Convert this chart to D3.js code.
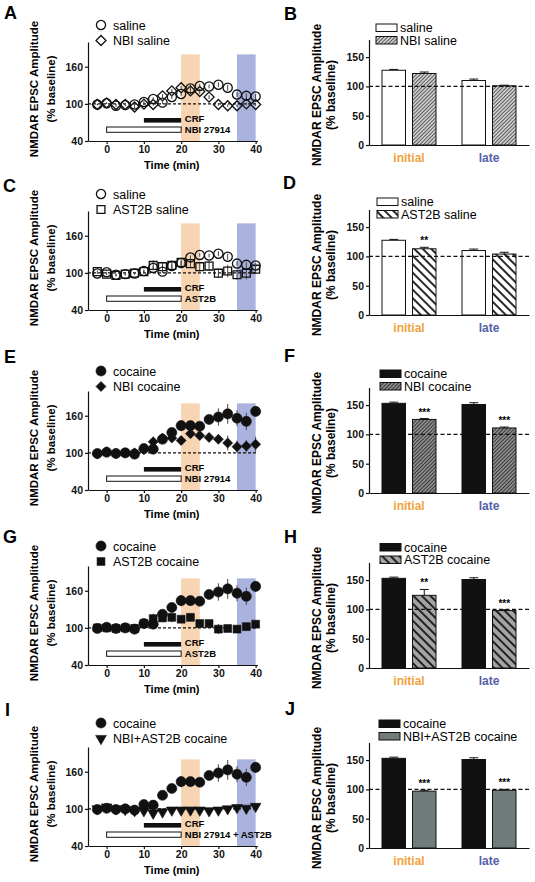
<!DOCTYPE html>
<html><head><meta charset="utf-8">
<script src="https://cdn.jsdelivr.net/npm/d3@7"></script>
<style>
body{margin:0;background:#fff}
svg{display:block}
text{font-family:"Liberation Sans",Arial,Helvetica,sans-serif}
</style>
</head><body>
<svg id="c" width="535" height="882"></svg>
<script>
// ---------- DATA ----------
const times = [-2.5,0,2.5,5,7.5,10,12.5,15,17.5,20,22.5,25,27.5,30,32.5,35,37.5,40];
const saline        = [99,101,97,98,99,103,108,102,111,116,125,129,128,131,126,115,113,112];
const salineErr     = [1,1,2,2,2,2,3,2,3,3,3,3,3,4,5,4,4,4];
const nbiSaline     = [99,101.5,99,99,95,99.5,99,113,121,126,121,120,111,99,97,97,100,99];
const nbiSalineErr  = [1,1,1,1,2,2,2,3,3,3,4,4,3,2,2,2,2,2];
const ast2bSaline   = [102,98,96,98,99.5,102,112,110,112,117,115,110,111,99.5,103,97,99.5,106];
const ast2bSalineErr= [2,2,2,2,2,3,8,6,8,6,7,8,8,8,10,8,10,5];
const cocaine       = [99,101,99,100,98,107,106,122,133,144,144,143,154,158,163,156,151,167];
const cocaineErr    = [1,2,3,3,3,6,6,5,5,9,7,5,6,14,16,13,14,8];
const nbiCocaine    = [98,102,99,100,100,105,118,124,124,120,131,128,125,122,116,110,111,114];
const nbiCocaineErr = [2,2,2,3,3,5,4,5,5,6,6,4,6,8,12,10,10,12];
const ast2bCocaine  = [100,100,99,100,99,107,115,116,117,114,117,107,107,98,99,98,102,106];
const ast2bCocaineErr=[1,1,1,1,2,4,8,6,8,6,6,5,6,8,3,2,3,4];
const comboCocaine  = [100,103,100,99,97,97,93,95,98,98,98,98,97,98,100,102,101,104];
const comboCocaineErr=[1,2,2,2,2,2,2,2,2,2,2,2,2,2,2,2,2,3];

const xTicks = [0,10,20,30,40];
const yTicksLine = [40,100,160];
const yTicksBar = [0,50,100,150];
const initialWindow = [20,25];
const lateWindow = [35,40];
const crfWindow = [10,20];
const drugWindow = [0,20];

const periods = ["initial","late"];
const barSaline = [127.5,110],        barSalineErr = [1.5,2.5];
const barNbiSaline = [122,101],       barNbiSalineErr = [2.5,1];
const barAst2bSaline = [113,104],     barAst2bSalineErr = [2.5,3];
const barCocaine = [153,151],         barCocaineErr = [2,3];
const barNbiCocaine = [125.5,111],    barNbiCocaineErr = [1.5,1.5];
const barAst2bCocaine = [124,98],     barAst2bCocaineErr = [10,1.5];
const barComboCocaine = [97,98.5],    barComboCocaineErr = [1.5,1.5];

// ---------- SETUP ----------
const svg = d3.select("#c");
const defs = svg.append("defs");
function stripe(id,bg,fg,size,w,angle){
  const p = defs.append("pattern").attr("id",id).attr("patternUnits","userSpaceOnUse")
    .attr("width",size).attr("height",size).attr("patternTransform",`rotate(${angle})`);
  p.append("rect").attr("width",size).attr("height",size).attr("fill",bg);
  p.append("line").attr("x1",size/2).attr("x2",size/2).attr("y1",0).attr("y2",size)
    .attr("stroke",fg).attr("stroke-width",w);
}
stripe("fineLight","#fff","#555",2.6,1.4,45);
stripe("fineDark","#a0a0a0","#333",2.6,1.2,45);
stripe("wideWhite","#fff","#111",6,1.8,-45);
stripe("wideGray","#a4a4a4","#222",6,2,-45);

const ORANGE_BAND="#f7d4b2", BLUE_BAND="#aab2de";
const ORANGE_TXT="#f0a23c", BLUE_TXT="#5560a8";

const sym = {
  circle: d3.symbol().type(d3.symbolCircle).size(66),
  fcircle: d3.symbol().type(d3.symbolCircle).size(80),
  diamond: d3.symbol().type(d3.symbolSquare).size(50),
  square: d3.symbol().type(d3.symbolSquare).size(62),
  triangle: d3.symbol().type(d3.symbolTriangle).size(50)
};
const rot = {circle:0,fcircle:0,diamond:45,square:0,triangle:180};

function drawMarker(g,x,y,shape,filled){
  g.append("path").attr("d",sym[shape]()).attr("transform",`translate(${x},${y}) rotate(${rot[shape]})`)
    .attr("fill",filled?"#111":"none").attr("stroke","#111").attr("stroke-width",filled?0.6:1.3);
}

function letter(x,y,t){
  svg.append("text").attr("x",x).attr("y",y).attr("font-size",18).attr("font-weight","bold").text(t);
}
function ylabel(x1,x2,cy,fs){
  svg.append("text").attr("transform",`translate(${x1},${cy}) rotate(-90)`).attr("text-anchor","middle")
    .attr("dy","0.35em").attr("font-size",fs).attr("font-weight","bold").text("NMDAR EPSC Amplitude");
  svg.append("text").attr("transform",`translate(${x2},${cy}) rotate(-90)`).attr("text-anchor","middle")
    .attr("dy","0.35em").attr("font-size",fs).attr("font-weight","bold").text("(% baseline)");
}

// ---------- LINE PANELS ----------
function linePanel(cfg){
  const y40 = cfg.y40;
  const x = d3.scaleLinear().domain([-5,40.5]).range([88,257.5]);
  const y = d3.scaleLinear().domain([40,200]).range([y40,y40-99]);
  const g = svg.append("g");
  [[initialWindow,ORANGE_BAND],[lateWindow,BLUE_BAND]].forEach(([w,c])=>{
    g.append("rect").attr("x",x(w[0])).attr("width",x(w[1])-x(w[0]))
      .attr("y",y(180)).attr("height",y(40)-y(180)).attr("fill",c);
  });
  g.append("line").attr("x1",x(-5)).attr("x2",x(40.5)).attr("y1",y(100)).attr("y2",y(100))
    .attr("stroke","#111").attr("stroke-width",1.1).attr("stroke-dasharray","3,2");
  // treatment bars
  g.append("rect").attr("x",x(crfWindow[0])).attr("width",x(crfWindow[1])-x(crfWindow[0]))
    .attr("y",y40-23).attr("height",4.6).attr("fill","#111");
  g.append("rect").attr("x",x(drugWindow[0])).attr("width",x(drugWindow[1])-x(drugWindow[0]))
    .attr("y",y40-14).attr("height",5.3).attr("fill","#fff").attr("stroke","#111").attr("stroke-width",1);
  g.append("text").attr("x",x(21)).attr("y",y40-18.8).attr("font-size",9.5).attr("font-weight","bold").text("CRF");
  g.append("text").attr("x",x(21)).attr("y",y40-7.8).attr("font-size",9.5).attr("font-weight","bold").text(cfg.drug);
  // axes
  const ya = g.append("g").attr("transform","translate(88,0)")
    .call(d3.axisLeft(y).tickValues(yTicksLine).tickSize(3).tickSizeOuter(0).tickPadding(2));
  const xa = g.append("g").attr("transform",`translate(0,${y40})`)
    .call(d3.axisBottom(x).tickValues(xTicks).tickSize(3).tickSizeOuter(0).tickPadding(2));
  [ya,xa].forEach(a=>{
    a.selectAll("path,line").attr("stroke","#111").attr("stroke-width",1.2);
    a.selectAll("text").attr("font-size",10.5).attr("font-weight","bold").attr("fill","#111")
      .attr("font-family","Liberation Sans,Arial,sans-serif");
  });
  g.append("text").attr("x",x(17.5)).attr("y",y40+28).attr("text-anchor","middle")
    .attr("font-size",11).attr("font-weight","bold").text("Time (min)");
  // series (reverse so first series on top)
  cfg.series.slice().reverse().forEach(s=>{
    times.forEach((t,i)=>{
      g.append("line").attr("x1",x(t)).attr("x2",x(t)).attr("y1",y(s.values[i]-s.err[i])).attr("y2",y(s.values[i]+s.err[i]))
        .attr("stroke","#444").attr("stroke-width",1);
    });
    times.forEach((t,i)=> drawMarker(g,x(t),y(s.values[i]),s.shape,s.filled));
  });
  // legend
  cfg.series.forEach((s,i)=>{
    const ly = cfg.legY + i*15.5;
    drawMarker(g,101,ly,s.shape,s.filled);
    g.append("text").attr("x",113).attr("y",ly).attr("dy","0.36em").attr("font-size",12.5).text(s.name);
  });
  ylabel(34,51,y40-52,11.5);
  letter(cfg.lx,cfg.ly,cfg.letter);
}

// ---------- BAR PANELS ----------
function barPanel(cfg){
  const y0 = cfg.y0;
  const y = d3.scaleLinear().domain([0,180]).range([y0,y0-105.5]);
  const x0 = d3.scaleBand().domain(periods).range([369,529]).paddingInner(0.325).paddingOuter(0.1625);
  const x1 = d3.scaleBand().domain(cfg.series.map(s=>s.name)).range([0,x0.bandwidth()]).paddingInner(0.23);
  const g = svg.append("g");
  cfg.series.forEach(s=>{
    periods.forEach((p,i)=>{
      const bx = x0(p)+x1(s.name), bw = x1.bandwidth();
      const top = y(s.values[i]), etop = y(s.values[i]+s.err[i]);
      g.append("line").attr("x1",bx+bw/2).attr("x2",bx+bw/2).attr("y1",top).attr("y2",etop).attr("stroke","#111").attr("stroke-width",1);
      g.append("line").attr("x1",bx+bw/2-4.5).attr("x2",bx+bw/2+4.5).attr("y1",etop).attr("y2",etop).attr("stroke","#111").attr("stroke-width",1);
      g.append("rect").attr("x",bx).attr("width",bw).attr("y",top).attr("height",y0-top)
        .attr("fill",s.fill).attr("stroke","#111").attr("stroke-width",1);
      if(s.sig && s.sig[i]){
        g.append("text").attr("x",bx+bw/2).attr("y",etop-3).attr("text-anchor","middle")
          .attr("font-size",10).attr("font-weight","bold").text(s.sig[i]);
      }
    });
  });
  g.append("line").attr("x1",369).attr("x2",529).attr("y1",y(100)).attr("y2",y(100))
    .attr("stroke","#111").attr("stroke-width",1.4).attr("stroke-dasharray","4,2.5");
  const ya = g.append("g").attr("transform","translate(369,0)")
    .call(d3.axisLeft(y).tickValues(yTicksBar).tickSize(3).tickSizeOuter(0).tickPadding(2));
  const xa = g.append("g").attr("transform",`translate(0,${y0})`)
    .call(d3.axisBottom(x0).tickSize(0).tickPadding(8));
  [ya,xa].forEach(a=>{
    a.selectAll("path,line").attr("stroke","#111").attr("stroke-width",1.2);
    a.selectAll("text").attr("font-size",10.5).attr("font-weight","bold").attr("fill","#111")
      .attr("font-family","Liberation Sans,Arial,sans-serif");
  });
  xa.selectAll("text").attr("font-size",12).attr("fill",(d)=> d==="initial"?ORANGE_TXT:BLUE_TXT);
  // legend
  cfg.series.forEach((s,i)=>{
    const ly = y0 - cfg.legOff + i*12.5;
    g.append("rect").attr("x",cfg.legX).attr("y",ly).attr("width",21).attr("height",7.5)
      .attr("fill",s.fill).attr("stroke","#111").attr("stroke-width",1);
    g.append("text").attr("x",cfg.legX+24).attr("y",ly+8).attr("font-size",12.5).text(s.name);
  });
  ylabel(317,331,y0-50,12);
  letter(cfg.lx,cfg.ly,cfg.letter);
}

// ---------- PANELS ----------
const salineS = {name:"saline",values:saline,err:salineErr,shape:"circle",filled:false};
const cocaineS = {name:"cocaine",values:cocaine,err:cocaineErr,shape:"fcircle",filled:true};

linePanel({letter:"A",lx:4,ly:18.5,y40:141,legY:25,drug:"NBI 27914",
  series:[salineS,{name:"NBI saline",values:nbiSaline,err:nbiSalineErr,shape:"diamond",filled:false}]});
linePanel({letter:"C",lx:3,ly:192,y40:310,legY:194,drug:"AST2B",
  series:[salineS,{name:"AST2B saline",values:ast2bSaline,err:ast2bSalineErr,shape:"square",filled:false}]});
linePanel({letter:"E",lx:4,ly:363,y40:490,legY:371,drug:"NBI 27914",
  series:[cocaineS,{name:"NBI cocaine",values:nbiCocaine,err:nbiCocaineErr,shape:"diamond",filled:true}]});
linePanel({letter:"G",lx:3,ly:543,y40:665,legY:546,drug:"AST2B",
  series:[cocaineS,{name:"AST2B cocaine",values:ast2bCocaine,err:ast2bCocaineErr,shape:"square",filled:true}]});
linePanel({letter:"I",lx:5,ly:716,y40:846,legY:723,drug:"NBI 27914 + AST2B",
  series:[cocaineS,{name:"NBI+AST2B cocaine",values:comboCocaine,err:comboCocaineErr,shape:"triangle",filled:true}]});

const bSal = {name:"saline",values:barSaline,err:barSalineErr,fill:"#fff"};
const bCoc = {name:"cocaine",values:barCocaine,err:barCocaineErr,fill:"#111"};
barPanel({letter:"B",lx:284,ly:19.5,y0:145,legX:376,legOff:121,
  series:[bSal,{name:"NBI saline",values:barNbiSaline,err:barNbiSalineErr,fill:"url(#fineLight)"}]});
barPanel({letter:"D",lx:283,ly:188.5,y0:315,legX:377,legOff:117,
  series:[bSal,{name:"AST2B saline",values:barAst2bSaline,err:barAst2bSalineErr,fill:"url(#wideWhite)",sig:["**",""]}]});
barPanel({letter:"F",lx:284,ly:362,y0:493,legX:380,legOff:123,
  series:[bCoc,{name:"NBI cocaine",values:barNbiCocaine,err:barNbiCocaineErr,fill:"url(#fineDark)",sig:["***","***"]}]});
barPanel({letter:"H",lx:284,ly:543,y0:668,legX:380,legOff:124.5,
  series:[bCoc,{name:"AST2B cocaine",values:barAst2bCocaine,err:barAst2bCocaineErr,fill:"url(#wideGray)",sig:["**","***"]}]});
barPanel({letter:"J",lx:285,ly:715,y0:848,legX:379,legOff:128,
  series:[bCoc,{name:"NBI+AST2B cocaine",values:barComboCocaine,err:barComboCocaineErr,fill:"#717b7b",sig:["***","***"]}]});
</script>
</body></html>
